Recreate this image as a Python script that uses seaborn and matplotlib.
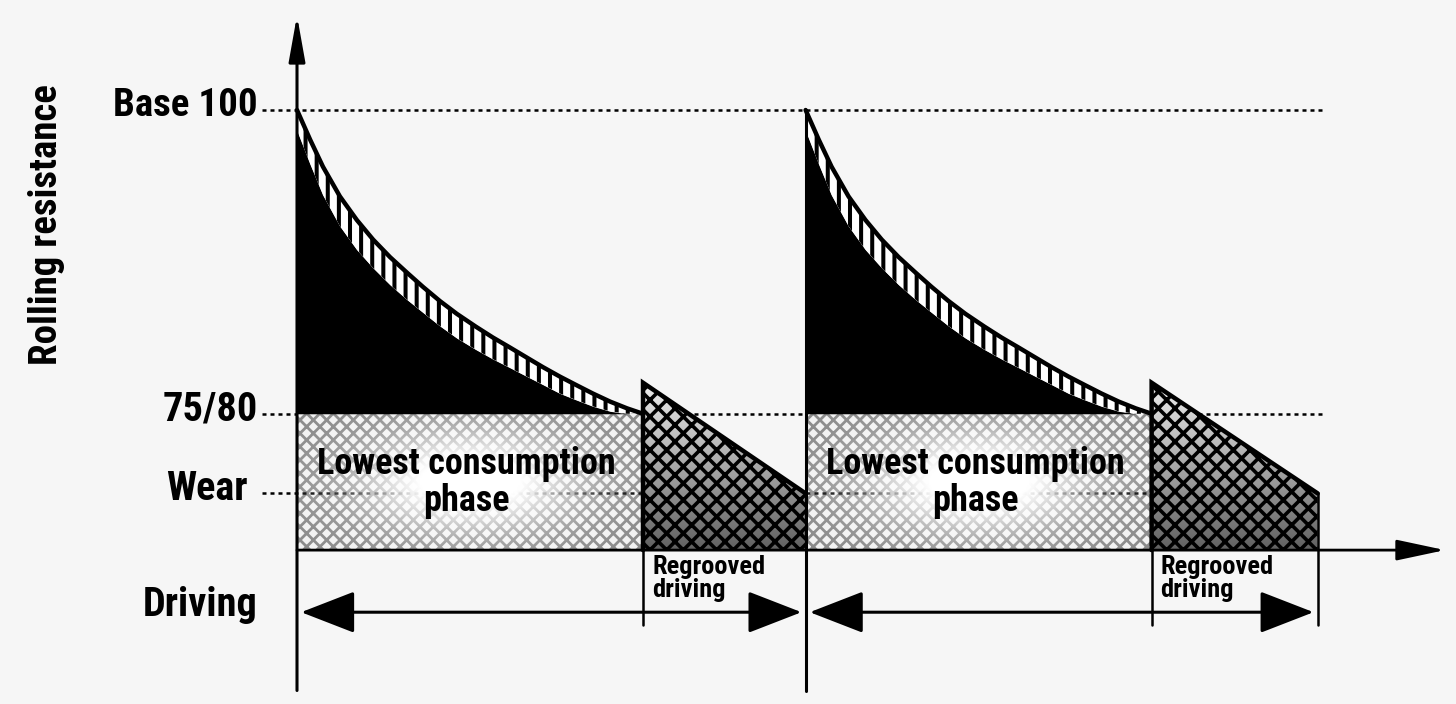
"""
Rolling resistance over two tyre lives (new tread + regrooved driving)
"""

import numpy as np
import matplotlib
matplotlib.use('Agg')
import matplotlib.pyplot as plt
import seaborn as sns


# ---- data -------------------------------------------------------------
level_labels = ['Base 100', '75/80', 'Wear']
level_values = [100.0, 77.5, 71.6]
floor_value = 67.4            # resistance at the bottom of the chart
regroove_peak = 79.8          # resistance right after regrooving

# driving distance (arbitrary units) for the two tyre lives
cycle_start = [0.0, 147.0]
regroove_at = [100.0, 247.0]
cycle_end = [147.0, 295.0]

# rolling resistance during the new-tread phase (distance from cycle start)
phase_x = [0, 3.8, 7.5, 12.4, 17.3, 22, 26.9, 31.8, 36.4, 41.3, 46.2,
           51.7, 56.6, 61.6, 66.5, 71.1, 76, 80.9, 85.5, 90.5, 95.4, 100]
rr_outer = [100, 97.8, 95.8, 93.6, 91.85, 90.4, 89.1, 87.95, 86.9, 85.85, 84.9,
            83.95, 83.15, 82.4, 81.65, 80.95, 80.25, 79.6, 79.0, 78.4, 77.9, 77.5]
rr_inner = [98.5, 96.0, 93.7, 91.4, 89.65, 88.3, 87.05, 85.95, 85.0, 84.0, 83.1,
            82.25, 81.55, 80.9, 80.25, 79.65, 79.0, 78.5, 78.05, 77.68, 77.5, 77.5]

phase_label = 'Lowest consumption\nphase'
regroove_label = 'Regrooved\ndriving'
y_title = 'Rolling resistance'
x_title = 'Driving'

# ---- style ------------------------------------------------------------
BG = '#f6f6f6'
sns.set_theme(style='white')
plt.rcParams['font.family'] = ['Roboto Condensed', 'Liberation Sans Narrow',
                               'Liberation Sans', 'DejaVu Sans']
plt.rcParams['font.weight'] = 'heavy'
plt.rcParams['font.stretch'] = 'condensed'
plt.rcParams['text.color'] = 'black'


def hatch_lw(obj, w):
    if hasattr(obj, 'set_hatch_linewidth'):
        obj.set_hatch_linewidth(w)


fig = plt.figure(figsize=(7.28, 3.52), dpi=200, facecolor=BG)
ax = fig.add_axes([0, 0, 1, 1])
ax.set_facecolor(BG)
ax.set_axis_off()

x_lo, x_hi = -85.84, 334.97
y_lo, y_hi = 56.0, 108.15
y_bottom = 57.0
tick_bottom = 61.85
arrow_y = 62.8

# dotted reference levels
dots = dict(color='black', lw=0.9, linestyle=(0, (1.6, 1.6)))
for val in level_values[:2]:
    ax.plot([-10.2, 296.5], [val, val], zorder=1, **dots)
ax.plot([-10.2, 295], [level_values[2]] * 2, zorder=2.5, **dots)

for i in range(2):
    s, r, e = cycle_start[i], regroove_at[i], cycle_end[i]
    xs = s + np.array(phase_x)

    # lowest consumption box
    with plt.rc_context({'hatch.linewidth': 1.0}):
        box = ax.fill_between([s, r], floor_value, level_values[1],
                              facecolor='#f2f2f2', edgecolor='#8a8a8a',
                              lw=0, hatch='xxxxx', zorder=2)
    hatch_lw(box, 1.0)

    # white glow behind the label
    u = np.linspace(-0.5, 0.5, 240)
    v = np.linspace(-0.5, 0.5, 90)
    U, V = np.meshgrid(u, v)
    img = np.ones((90, 240, 4))
    img[..., 3] = np.clip(1.25 * np.exp(-((U / 0.31) ** 2 + (V / 0.36) ** 2)), 0, 1)
    ax.imshow(img, extent=(s, r, floor_value, level_values[1]), aspect='auto',
              origin='lower', interpolation='bilinear', zorder=3)

    # black area under the curve + striped band
    ax.fill_between(xs, level_values[1], rr_inner, color='black', lw=0, zorder=4)
    with plt.rc_context({'hatch.linewidth': 1.45}):
        band = ax.fill_between(xs, rr_inner, rr_outer, facecolor='white',
                               edgecolor='black', lw=0, hatch='|||', zorder=4)
    hatch_lw(band, 1.45)
    sns.lineplot(x=xs, y=rr_outer, color='black', lw=1.6, zorder=5, ax=ax)

    # regrooved wedge
    g = np.linspace(0, 1, 120)[:, None] * np.ones((1, 2))
    shade = 0.38 + 0.55 * g
    grad = np.dstack([shade, shade, shade])
    im = ax.imshow(grad, extent=(r, e, floor_value, regroove_peak), aspect='auto',
                   origin='lower', interpolation='bilinear', zorder=3.8)
    with plt.rc_context({'hatch.linewidth': 1.3}):
        wedge, = ax.fill([r, r, e, e], [floor_value, regroove_peak, level_values[2], floor_value],
                         facecolor='none', edgecolor='black', lw=0, hatch='xxxx', zorder=4)
    hatch_lw(wedge, 1.3)
    im.set_clip_path(wedge)
    ax.plot([r, r, e], [floor_value, regroove_peak, level_values[2]],
            color='black', lw=1.6, zorder=5, solid_joinstyle='miter')

    # tick marks below the wedge and driving arrow
    ax.plot([r, r], [floor_value, tick_bottom], color='black', lw=0.9, zorder=5)
    ax.annotate('', xy=(e, arrow_y), xytext=(s, arrow_y),
                arrowprops=dict(arrowstyle='<|-|>,head_length=1.7,head_width=0.66',
                                mutation_scale=10, lw=1.1, color='black',
                                shrinkA=1.5, shrinkB=1.5), zorder=6)

    ax.text(s + 49, 72.4, phase_label, ha='center', va='center', fontsize=13,
            linespacing=1.05, zorder=7)
    ax.text(r + 2.6, 65.3, regroove_label, ha='left', va='center', fontsize=9.5,
            linespacing=0.95, zorder=7)

# vertical lines / axes
ax.plot([cycle_end[0]] * 2, [y_bottom, level_values[0]], color='black', lw=1.1, zorder=6)
ax.plot([cycle_end[1]] * 2, [level_values[2], tick_bottom], color='black', lw=0.9, zorder=6)
ax.annotate('', xy=(0, 107.0), xytext=(0, y_bottom),
            arrowprops=dict(arrowstyle='-|>,head_length=1.4,head_width=0.25',
                            mutation_scale=10, lw=1.1, color='black',
                            shrinkA=0, shrinkB=0), zorder=6)
ax.annotate('', xy=(331.8, floor_value), xytext=(0, floor_value),
            arrowprops=dict(arrowstyle='-|>,head_length=1.5,head_width=0.32',
                            mutation_scale=10, lw=1.0, color='black',
                            shrinkA=0, shrinkB=0), zorder=6)

# labels on the left
ax.text(-11.3, level_values[0] + 0.3, level_labels[0], ha='right', va='center', fontsize=14)
ax.text(-11.3, level_values[1] + 0.3, level_labels[1], ha='right', va='center', fontsize=14.5)
ax.text(-14.2, level_values[2] + 0.3, level_labels[2], ha='right', va='center', fontsize=14.5)
ax.text(-11.3, 63.3, x_title, ha='right', va='center', fontsize=14.5)
ax.text(-72.3, 91.5, y_title, ha='center', va='center', rotation=90, fontsize=14)

ax.set_xlim(x_lo, x_hi)
ax.set_ylim(y_lo, y_hi)

fig.savefig('out.png', dpi=200, facecolor=BG)
